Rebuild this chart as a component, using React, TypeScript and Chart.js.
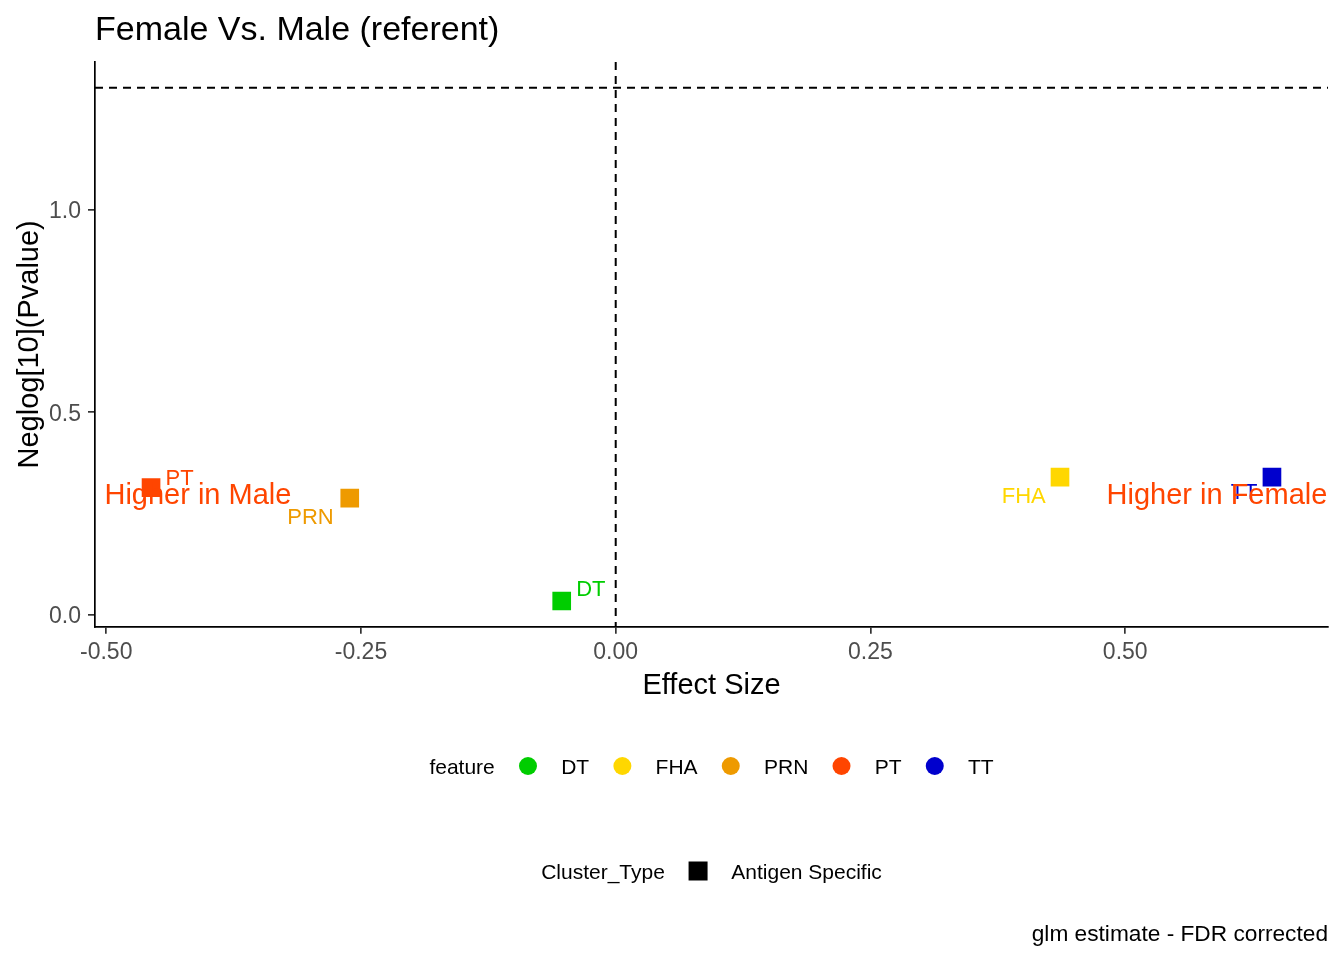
import React, { useEffect, useRef } from "react";
import { Chart, registerables } from "chart.js";

Chart.register(...registerables);

// ---- data ----
const features = ["DT", "FHA", "PRN", "PT", "TT"];
const effectSize = [-0.053, 0.436, -0.261, -0.456, 0.644];
const negLogP = [0.034, 0.34, 0.288, 0.314, 0.34];
const featureColors = ["#00CD00", "#FFD700", "#EE9A00", "#FF4500", "#0000CD"];
const xTickValues = [-0.5, -0.25, 0, 0.25, 0.5];
const yTickValues = [0, 0.5, 1.0];
const pThreshold = 0.05;
const annotationTexts = ["Higher in Male", "Higher in Female"];
const annotationX = [-0.41, 0.59];
const annotationY = [0.3, 0.3];
const clusterTypes = ["Antigen Specific"];

const titleText = "Female Vs. Male (referent)";
const xTitle = "Effect Size";
const yTitle = "Neglog[10](Pvalue)";
const captionText = "glm estimate - FDR corrected";

// ---- layout / style (pixel offsets of repelled labels, per feature) ----
const labelDx = [14.5, -14.3, -16, 14.5, -14.4];
const labelDy = [-4.6, 26, 25.7, -2.3, 22];
const labelAlign: CanvasTextAlign[] = ["left", "right", "right", "left", "right"];

const FONT = "'Liberation Sans', Arial, Helvetica, sans-serif";
const W = 1344;
const H = 960;
const PLOT_LEFT = 95;
const PLOT_RIGHT = 1328;
const PLOT_TOP = 62;
const PLOT_BOTTOM = 626.7;

function expandRange(vals: number[]) {
  const lo = Math.min(...vals);
  const hi = Math.max(...vals);
  const pad = (hi - lo) * 0.05;
  return [lo - pad, hi + pad];
}

const hlineY = -Math.log10(pThreshold);
const [xMin, xMax] = expandRange(effectSize);
const [yMin, yMax] = expandRange([...negLogP, hlineY]);

const overlayPlugin = {
  id: "overlay",
  beforeDatasetsDraw(chart: any) {
    const { ctx, chartArea, scales } = chart;
    const x0 = scales.x.getPixelForValue(0);
    const yh = scales.y.getPixelForValue(hlineY);
    ctx.save();
    ctx.strokeStyle = "#000000";
    ctx.lineWidth = 2;
    ctx.setLineDash([8, 6]);
    ctx.beginPath();
    ctx.moveTo(x0, chartArea.top);
    ctx.lineTo(x0, chartArea.bottom);
    ctx.stroke();
    ctx.beginPath();
    ctx.moveTo(chartArea.left, yh);
    ctx.lineTo(chartArea.right, yh);
    ctx.stroke();
    ctx.restore();
  },
  afterDatasetsDraw(chart: any) {
    const { ctx, scales } = chart;
    ctx.save();
    // repelled point labels
    ctx.font = `22px ${FONT}`;
    ctx.textBaseline = "alphabetic";
    features.forEach((f, i) => {
      const px = scales.x.getPixelForValue(effectSize[i]);
      const py = scales.y.getPixelForValue(negLogP[i]);
      ctx.fillStyle = featureColors[i];
      ctx.textAlign = labelAlign[i];
      ctx.fillText(f, px + labelDx[i], py + labelDy[i]);
    });
    // annotations
    ctx.font = `29px ${FONT}`;
    ctx.fillStyle = "#FF4500";
    ctx.textAlign = "center";
    ctx.textBaseline = "alphabetic";
    annotationTexts.forEach((t, i) => {
      const px = scales.x.getPixelForValue(annotationX[i]);
      const py = scales.y.getPixelForValue(annotationY[i]);
      ctx.fillText(t, px, py + 10.4);
    });
    ctx.restore();
  },
  afterDraw(chart: any) {
    const { ctx, chartArea } = chart;
    const cx = (chartArea.left + chartArea.right) / 2;
    ctx.save();
    // title
    ctx.fillStyle = "#000000";
    ctx.font = `34px ${FONT}`;
    ctx.textAlign = "left";
    ctx.textBaseline = "alphabetic";
    ctx.fillText(titleText, chartArea.left, 40);
    // axis titles
    ctx.font = `29px ${FONT}`;
    ctx.textAlign = "center";
    ctx.fillText(xTitle, cx, 694);
    ctx.save();
    ctx.translate(38, (chartArea.top + chartArea.bottom) / 2);
    ctx.rotate(-Math.PI / 2);
    ctx.fillText(yTitle, 0, 0);
    ctx.restore();

    // legend row 1: feature
    ctx.font = `21px ${FONT}`;
    ctx.textAlign = "left";
    const gap = 33.2;
    const titleW = ctx.measureText("feature").width;
    const widths = features.map((f) => ctx.measureText(f).width);
    const total1 = titleW + widths.reduce((a, w) => a + 2 * gap + w, 0);
    let x = cx - total1 / 2;
    const y1 = 766;
    ctx.fillStyle = "#000000";
    ctx.fillText("feature", x, y1 + 7.5);
    x += titleW;
    features.forEach((f, i) => {
      x += gap;
      ctx.fillStyle = featureColors[i];
      ctx.beginPath();
      ctx.arc(x, y1, 9, 0, Math.PI * 2);
      ctx.fill();
      x += gap;
      ctx.fillStyle = "#000000";
      ctx.fillText(f, x, y1 + 7.5);
      x += widths[i];
    });

    // legend row 2: Cluster_Type
    const y2 = 871;
    const t2W = ctx.measureText("Cluster_Type").width;
    const cW = clusterTypes.map((c) => ctx.measureText(c).width);
    const total2 = t2W + cW.reduce((a, w) => a + 2 * gap + w, 0);
    x = cx - total2 / 2;
    ctx.fillStyle = "#000000";
    ctx.fillText("Cluster_Type", x, y2 + 7.5);
    x += t2W;
    clusterTypes.forEach((c, i) => {
      x += gap;
      ctx.fillRect(x - 9.5, y2 - 9.5, 19, 19);
      x += gap;
      ctx.fillText(c, x, y2 + 7.5);
      x += cW[i];
    });

    // caption
    ctx.font = `22.7px ${FONT}`;
    ctx.textAlign = "right";
    ctx.fillText(captionText, chartArea.right, 941);
    ctx.restore();
  },
};

export default function App() {
  const canvasRef = useRef<HTMLCanvasElement | null>(null);

  useEffect(() => {
    const canvas = canvasRef.current;
    if (!canvas) return;
    const chart = new Chart(canvas, {
      type: "scatter",
      data: {
        datasets: features.map((f, i) => ({
          label: f,
          data: [{ x: effectSize[i], y: negLogP[i] }],
          pointStyle: "rect",
          pointRadius: 13.2,
          pointHoverRadius: 13.2,
          pointBorderWidth: 0,
          backgroundColor: featureColors[i],
          borderColor: featureColors[i],
          borderWidth: 0,
        })),
      },
      options: {
        responsive: false,
        animation: false,
        devicePixelRatio: 1,
        layout: {
          padding: { left: 0, top: PLOT_TOP, right: W - PLOT_RIGHT, bottom: 0 },
        },
        plugins: {
          legend: { display: false },
          tooltip: { enabled: false },
          title: { display: false },
        },
        events: [],
        scales: {
          x: {
            type: "linear",
            min: xMin,
            max: xMax,
            afterBuildTicks: (s: any) => {
              s.ticks = xTickValues.map((v) => ({ value: v }));
            },
            afterFit: (s: any) => {
              s.height = H - PLOT_BOTTOM;
            },
            ticks: {
              autoSkip: false,
              maxRotation: 0,
              minRotation: 0,
              padding: 5,
              color: "#4D4D4D",
              font: { size: 23, family: FONT },
              callback: (v: any) => Number(v).toFixed(2),
            },
            grid: {
              drawOnChartArea: false,
              drawTicks: true,
              tickLength: 7,
              color: "#333333",
              lineWidth: 1.7,
            },
            border: { display: true, color: "#000000", width: 1.7 },
          },
          y: {
            type: "linear",
            min: yMin,
            max: yMax,
            afterBuildTicks: (s: any) => {
              s.ticks = yTickValues.map((v) => ({ value: v }));
            },
            afterFit: (s: any) => {
              s.width = PLOT_LEFT;
            },
            ticks: {
              autoSkip: false,
              padding: 7,
              labelOffset: 2,
              color: "#4D4D4D",
              font: { size: 23, family: FONT },
              callback: (v: any) => Number(v).toFixed(1),
            },
            grid: {
              drawOnChartArea: false,
              drawTicks: true,
              tickLength: 7,
              color: "#333333",
              lineWidth: 1.7,
            },
            border: { display: true, color: "#000000", width: 1.7 },
          },
        },
      },
      plugins: [overlayPlugin],
    } as any);
    return () => chart.destroy();
  }, []);

  return (
    <div
      style={{
        position: "fixed",
        left: 0,
        top: 0,
        width: W,
        height: H,
        background: "#ffffff",
      }}
    >
      <canvas ref={canvasRef} width={W} height={H} style={{ display: "block" }} />
    </div>
  );
}
